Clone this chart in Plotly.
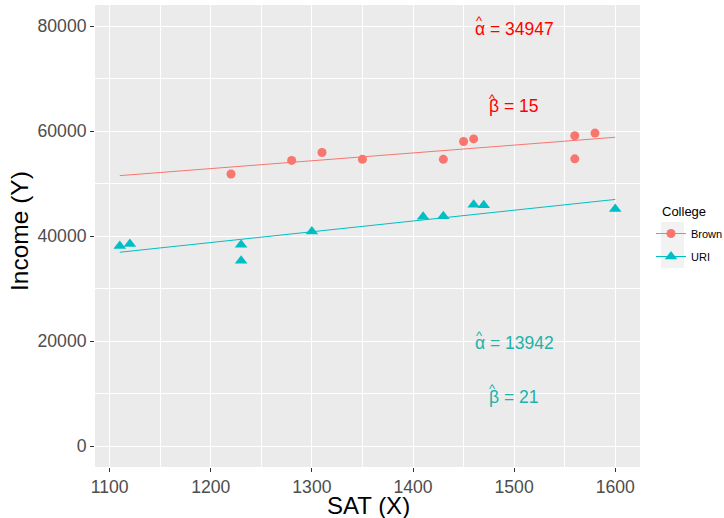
import numpy as np
import plotly.graph_objects as go

# ---- data ----
colleges = ["Brown", "URI"]
brown_sat = [1220, 1280, 1310, 1350, 1430, 1450, 1460, 1560, 1560, 1580]
brown_income = [51800, 54400, 55900, 54600, 54600, 58000, 58500, 59100, 54700, 59600]
uri_sat = [1110, 1120, 1230, 1230, 1300, 1410, 1430, 1460, 1470, 1600]
uri_income = [38100, 38500, 38350, 35300, 40850, 43650, 43750, 45950, 45850, 45150]

# annotation labels (symbol, value)
brown_symbols = ["α", "β"]
brown_values = ["34947", "15"]
uri_symbols = ["α", "β"]
uri_values = ["13942", "21"]
label_x = 1500
brown_label_y = [79500, 64700]
uri_label_y = [19600, 9400]

x_ticks = [1100, 1200, 1300, 1400, 1500, 1600]
y_ticks = [0, 20000, 40000, 60000, 80000]
y_ticklabels = [str(v) for v in y_ticks]

RED = "#F8766D"
TEAL = "#00BFC4"
FONT = "Liberation Sans, Arial, sans-serif"

# layout geometry (pixels)
W, H = 724, 518
ML, MR, MT, MB = 95, 84, 5, 51
PW, PH = W - ML - MR, H - MT - MB


def px_x(px):
    return (px - ML) / PW


def px_y(py):
    return (H - MB - py) / PH


all_sat = brown_sat + uri_sat
xs = np.array([min(all_sat), max(all_sat)])

fig = go.Figure()

for sat, inc, col, sym, size, name in [
    (brown_sat, brown_income, RED, "circle", 9, colleges[0]),
    (uri_sat, uri_income, TEAL, "triangle-up", 11, colleges[1]),
]:
    b, a = np.polyfit(sat, inc, 1)
    fig.add_trace(go.Scatter(x=xs, y=a + b * xs, mode="lines",
                             line=dict(color=col, width=1), showlegend=False,
                             hoverinfo="skip"))
    fig.add_trace(go.Scatter(x=sat, y=inc, mode="markers",
                             marker=dict(color=col, symbol=sym, size=size, line=dict(width=0)),
                             showlegend=False))
    fig.add_trace(go.Scatter(x=[None], y=[None], mode="lines+markers", name=name,
                             legendgroup=name,
                             line=dict(color=col, width=1),
                             marker=dict(color=col, symbol=sym, size=size, line=dict(width=0))))


def add_hat_label(sym, val, y, color, left_shift, hat_shift):
    fig.add_annotation(x=label_x, y=y, text=f"{sym} = {val}", showarrow=False,
                       xanchor="left", xshift=left_shift,
                       font=dict(family=FONT, size=17.5, color=color))
    fig.add_annotation(x=label_x, y=y, text="^", showarrow=False,
                       xanchor="left", xshift=left_shift + hat_shift, yshift=8,
                       font=dict(family=FONT, size=13, color=color))


for s, v, y in zip(brown_symbols, brown_values, brown_label_y):
    add_hat_label(s, v, y, "#FF0000", -41 if s == "α" else -27, 1 if s == "α" else 0)
for s, v, y in zip(uri_symbols, uri_values, uri_label_y):
    add_hat_label(s, v, y, "#20B2AA", -41 if s == "α" else -27, 1 if s == "α" else 0)

# axis titles
fig.add_annotation(xref="paper", yref="paper", x=px_x(368), y=px_y(505), text="SAT (X)",
                   showarrow=False, xanchor="center", yanchor="middle",
                   font=dict(family=FONT, size=24, color="black"))
fig.add_annotation(xref="paper", yref="paper", x=px_x(19), y=px_y(231), text="Income (Y)",
                   showarrow=False, xanchor="center", yanchor="middle", textangle=-90,
                   font=dict(family=FONT, size=24.5, color="black"))
# legend title
fig.add_annotation(xref="paper", yref="paper", x=px_x(660), y=px_y(211), text="College",
                   showarrow=False, xanchor="left", yanchor="middle",
                   font=dict(family=FONT, size=13, color="black"))

# legend key backgrounds
for top in (222, 245):
    fig.add_shape(type="rect", xref="paper", yref="paper",
                  x0=px_x(661), x1=px_x(684), y0=px_y(top + 23), y1=px_y(top),
                  fillcolor="#F2F2F2", line=dict(width=0), layer="below")

axis_common = dict(
    showgrid=True, gridcolor="white", gridwidth=1.1,
    zeroline=False, showline=False, automargin=False,
    ticks="outside", ticklen=4, tickwidth=1, tickcolor="#333333",
    tickfont=dict(family=FONT, size=17.6, color="#4D4D4D"),
)

fig.update_layout(
    width=W, height=H,
    margin=dict(l=ML, r=MR, t=MT, b=MB, autoexpand=False),
    paper_bgcolor="white", plot_bgcolor="#EBEBEB",
    font=dict(family=FONT),
    xaxis=dict(range=[1085.5, 1624.5], tickvals=x_ticks,
               minor=dict(tick0=1100, dtick=50, showgrid=True, gridcolor="white", gridwidth=0.5, ticklen=0),
               **axis_common),
    yaxis=dict(range=[-4000, 84000], tickvals=y_ticks, ticktext=y_ticklabels,
               minor=dict(tick0=0, dtick=10000, showgrid=True, gridcolor="white", gridwidth=0.5, ticklen=0),
               **axis_common),
    legend=dict(font=dict(family=FONT, size=11, color="black"),
                xref="container", yref="container",
                x=651 / W, y=1 - 219 / H, xanchor="left", yanchor="top",
                bgcolor="rgba(0,0,0,0)", tracegroupgap=4, itemwidth=30),
    showlegend=True,
)

fig.write_html("out.html", config={"displayModeBar": False},
               post_script="document.body.style.margin='0';document.body.style.overflow='hidden';")
